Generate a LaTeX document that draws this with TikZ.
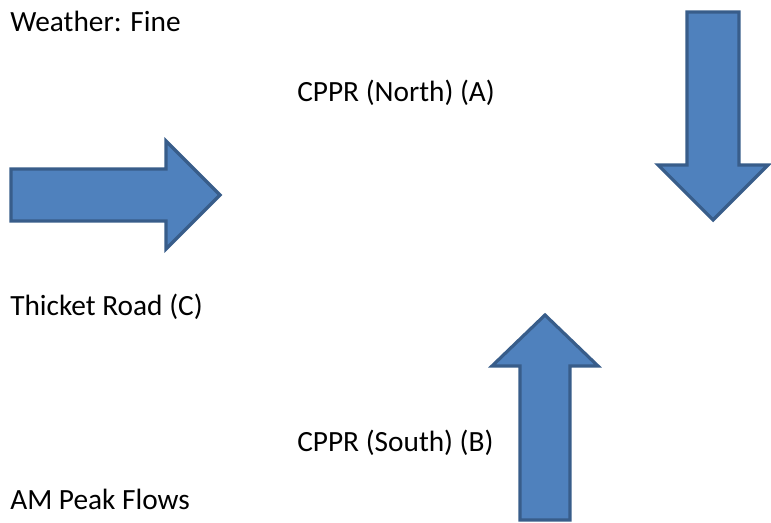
\documentclass[tikz,border=0pt]{standalone}
\usepackage{fontspec}
\setmainfont{Carlito}
\definecolor{arrowfill}{HTML}{4F81BD}
\definecolor{arrowline}{HTML}{385D8A}
\begin{document}
\begin{tikzpicture}[x=0.75pt,y=-0.75pt,
  flowarrow/.style={fill=arrowfill,draw=arrowline,line width=2.4pt,line join=miter},
  lbl/.style={anchor=base west,inner sep=0pt,font=\fontsize{22}{26}\selectfont,text=black}]
\useasboundingbox (0,0) rectangle (771,523);
% text labels
\node[lbl] (weather) at (10,32) {Weather: Fine};
\node[lbl] (north) at (297,101.5) {CPPR (North) (A)};
\node[lbl] (thicket) at (10,316) {Thicket Road (C)};
\node[lbl] (south) at (297,451.5) {CPPR (South) (B)};
\node[lbl] (peak) at (10,510) {AM Peak Flows};
% arrow C (eastbound)
\draw[flowarrow] (11,169) -- (166,169) -- (166,141) -- (220,195) -- (166,249) -- (166,221) -- (11,221) -- cycle;
% arrow A (southbound)
\draw[flowarrow] (687,12) -- (739,12) -- (739,165) -- (768,165) -- (713,220) -- (658,165) -- (687,165) -- cycle;
% arrow B (northbound)
\draw[flowarrow] (520,520) -- (520,366) -- (492,366) -- (545,315) -- (598,366) -- (570,366) -- (570,520) -- cycle;
\end{tikzpicture}
\end{document}
